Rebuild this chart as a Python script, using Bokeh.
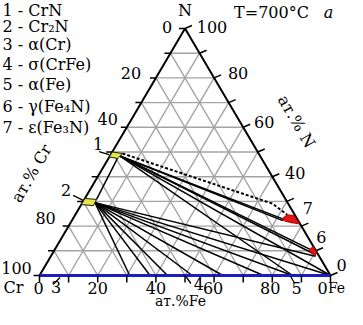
import numpy as np
from bokeh.plotting import figure
from bokeh.models import Range1d
from bokeh.embed import file_html
from bokeh.resources import INLINE
from bokeh.core.properties import value

FONT = "DejaVu Serif"

# ---------------- data ----------------
legend_labels = ["1 - CrN", "2 - Cr₂N", "3 - α(Cr)", "4 - σ(CrFe)",
                 "5 - α(Fe)", "6 - γ(Fe₄N)", "7 - ε(Fe₃N)"]
grid_levels = [10, 20, 30, 40, 50, 60, 70, 80, 90]
tick_levels = [0, 10, 20, 30, 40, 50, 60, 70, 80, 90, 100]

cr_tick_labels = ["0", "20", "40", "80", "100"]
cr_tick_values = [0, 20, 40, 80, 100]
n_tick_labels = ["100", "80", "60", "40", "0"]
n_tick_values = [100, 80, 60, 40, 0]
fe_tick_labels = ["0", "20", "40", "60", "80", "0"]
fe_tick_values = [0, 20, 40, 60, 80, 100]

# phase regions (Fe at.%, N at.%)
crn_fe = [0.0, 0.0, 3.8, 3.1]
crn_n = [48.0, 50.0, 49.4, 47.4]
cr2n_fe = [0.0, 0.0, 4.2, 4.4]
cr2n_n = [28.7, 31.2, 30.8, 28.3]
eps_fe = [71.8, 72.8, 75.2, 79.1, 73.6]
eps_n = [22.8, 24.6, 24.3, 20.8, 21.9]
gam_fe = [87.5, 88.1, 90.3, 90.9]
gam_n = [10.1, 11.7, 9.7, 7.8]

# tie lines from CrN (Fe, N) to end points
crn_tie_origin = (3.4, 48.4)
crn_tie_end_fe = [72.5, 76.5, 87.7, 89.8, 100.0, 87.0]
crn_tie_end_n = [22.2, 21.3, 10.6, 8.8, 0.0, 0.0]
# tie lines from Cr2N
cr2n_tie_origin = (4.3, 29.5)
cr2n_tie_end_fe = [31.0, 38.0, 44.0, 52.5, 63.0, 77.0, 87.0, 100.0, 90.9]
cr2n_tie_end_n = [0.0, 0.0, 0.0, 0.0, 0.0, 0.0, 0.0, 0.0, 7.8]
# dotted boundary
dot_fe = [3.8, 65.5, 72.8]
dot_n = [49.4, 29.1, 24.6]

# markers on the axes
bottom_marker_labels = ["3", "4", "5"]
bottom_marker_fe = [5.0, 51.0, 87.0]

# ---------------- geometry helpers ----------------
SX, SY = 2.91, 2.47          # pixels per at.%
OX, OY = 39.0, 275.0         # pixel of the Cr corner
W, H = 347, 309


def tx(fe, n):
    fe = np.asarray(fe, dtype=float)
    n = np.asarray(n, dtype=float)
    return fe + n / 2.0, n


def shift(x, y, dx, dy):
    """shift data point by screen pixels (dy positive = down)"""
    return np.asarray(x) + dx / SX, np.asarray(y) - dy / SY


def px(xp, yp):
    return (xp - OX) / SX, (OY - yp) / SY


p = figure(width=W, height=H, output_backend="svg", toolbar_location=None,
           x_axis_type=None, y_axis_type=None, min_border=0)
p.x_range = Range1d((0 - OX) / SX, (W - OX) / SX)
p.y_range = Range1d((OY - H) / SY, OY / SY)
p.outline_line_color = None
p.grid.visible = False
p.background_fill_color = "white"

GRID = "#a3a3a3"
for k in grid_levels:
    xs, ys = tx([0, 100 - k], [k, k])
    p.line(xs, ys, line_color=GRID, line_width=1.4)
    xs, ys = tx([k, k], [0, 100 - k])
    p.line(xs, ys, line_color=GRID, line_width=1.4)
    xs, ys = tx([100 - k, 0], [0, 100 - k])
    p.line(xs, ys, line_color=GRID, line_width=1.4)

# tie lines
ox, oy = tx(*crn_tie_origin)
ex, ey = tx(crn_tie_end_fe, crn_tie_end_n)
p.segment(x0=[ox] * len(ex), y0=[oy] * len(ex), x1=ex, y1=ey,
          line_color="black", line_width=1.5)
ox, oy = tx(*cr2n_tie_origin)
ex, ey = tx(cr2n_tie_end_fe, cr2n_tie_end_n)
p.segment(x0=[ox] * len(ex), y0=[oy] * len(ex), x1=ex, y1=ey,
          line_color="black", line_width=1.5)
bx, by = tx([cr2n_fe[2], crn_fe[3]], [cr2n_n[2], crn_n[3]])
p.line(bx, by, line_color="black", line_width=1.5)
dx_, dy_ = tx(dot_fe, dot_n)
p.line(dx_, dy_, line_color="black", line_width=2, line_dash="3 2")

# triangle edges
xs, ys = tx([0, 0, 100], [0, 100, 0])
p.line(xs, ys, line_color="black", line_width=2)
xs, ys = tx([0, 100], [0, 0])
p.line(xs, ys, line_color="#1c1cc4", line_width=3)

# phase regions
for fe, n, col, lc in [(crn_fe, crn_n, "#e3e84a", "#202000"),
                       (cr2n_fe, cr2n_n, "#e3e84a", "#202000"),
                       (eps_fe, eps_n, "#e01414", "#b00000"),
                       (gam_fe, gam_n, "#e01414", "#b00000")]:
    xs, ys = tx(fe, n)
    p.patch(xs, ys, fill_color=col, line_color=lc, line_width=1)

# ticks
lx, ly = tx([0] * len(tick_levels), tick_levels)
lx1, ly1 = shift(lx, ly, -6, 0)
p.segment(x0=lx, y0=ly, x1=lx1, y1=ly1, line_color="black", line_width=1.5)
rx, ry = tx([100 - v for v in tick_levels], tick_levels)
rx1, ry1 = shift(rx, ry, 7, -3)
p.segment(x0=rx, y0=ry, x1=rx1, y1=ry1, line_color="black", line_width=1.5)
bx, by = tx(tick_levels, [0] * len(tick_levels))
bx1, by1 = shift(bx, by, 0, 7)
p.segment(x0=bx, y0=by, x1=bx1, y1=by1, line_color="black", line_width=1.5)

# leaders
lead = []
a1 = tx(0, 48.5)
a2 = tx(0, 30.0)
lead.append((shift(*a1, -11, -4), shift(*a1, -1, -1)))
lead.append((shift(*a2, -10, -6), shift(*a2, 0, -1)))
b3 = tx(bottom_marker_fe[0], 0)
b4 = tx(bottom_marker_fe[1], 0)
b5 = tx(bottom_marker_fe[2], 0)
lead.append((shift(*b3, -1, 9), shift(*b3, 6, 2)))
lead.append((shift(*b4, -2, 1), shift(*b4, 3, 8)))
lead.append((shift(*b5, -2, 1), shift(*b5, 2, 8)))
p.segment(x0=[float(a[0][0]) for a in lead], y0=[float(a[0][1]) for a in lead],
          x1=[float(a[1][0]) for a in lead], y1=[float(a[1][1]) for a in lead],
          line_color="black", line_width=1.3)

TS = "16px"


def txt(x, y, s, xo=0, yo=0, align="center", angle=0.0, style="normal", size=TS):
    p.text(x=[float(x)], y=[float(y)], text=[s], x_offset=xo, y_offset=yo,
           angle=angle, text_align=align, text_baseline="middle",
           text_font=value(FONT), text_font_size=size, text_color="black",
           text_font_style=style)


left_off = [(-18, -2), (-25, -5), (-19, -8), (-23, -8), (-23, -8)]
for lab, v, (xo, yo) in zip(cr_tick_labels, cr_tick_values, left_off):
    x, y = tx(0, 100 - v)
    txt(x, y, lab, xo, yo)
right_off = [(27, -2), (24, -5), (21, -5), (23, -4), (11, -11)]
for lab, v, (xo, yo) in zip(n_tick_labels, n_tick_values, right_off):
    x, y = tx(100 - v, v)
    txt(x, y, lab, xo, yo)
bottom_off = [(-1, 12), (0, 12), (0, 12), (-1, 12), (-2, 12), (-8, 12)]
for lab, v, (xo, yo) in zip(fe_tick_labels, fe_tick_values, bottom_off):
    x, y = tx(v, 0)
    txt(x, y, lab, xo, yo)

# phase marker labels
txt(*a1, "1", -12, -12)
txt(*a2, "2", -17, -11)
x, y = tx(eps_fe[3], eps_n[3])
txt(x, y, "7", 8, -16)
x, y = tx(gam_fe[2], gam_n[2])
txt(x, y, "6", 5, -15)
txt(*b3, "3", 2, 11)
txt(*b4, "4", 11, 8)
txt(*b5, "5", 4, 12)

# corners
txt(*tx(0, 0), "Cr", -26, 12)
txt(*tx(100, 0), "Fe", 6, 12, size="14px")
txt(*tx(0, 100), "N", 0, -18)

# titles
txt(*px(271, 12), "T=700°C")
txt(*px(328, 12), "a", style="italic")
txt(*px(31, 173), "ат.% Cr", angle=np.deg2rad(60))
txt(*px(296, 121), "ат.% N", angle=np.deg2rad(-60))
txt(*px(180, 300), "ат.%Fe", size="14px")

# legend
legend_rows = [10, 26, 44, 64, 84, 106, 127]
for lab, yy in zip(legend_labels, legend_rows):
    x, y = px(2, yy)
    txt(x, y, lab, align="left")

open("out.html", "w").write(file_html(p, INLINE))
